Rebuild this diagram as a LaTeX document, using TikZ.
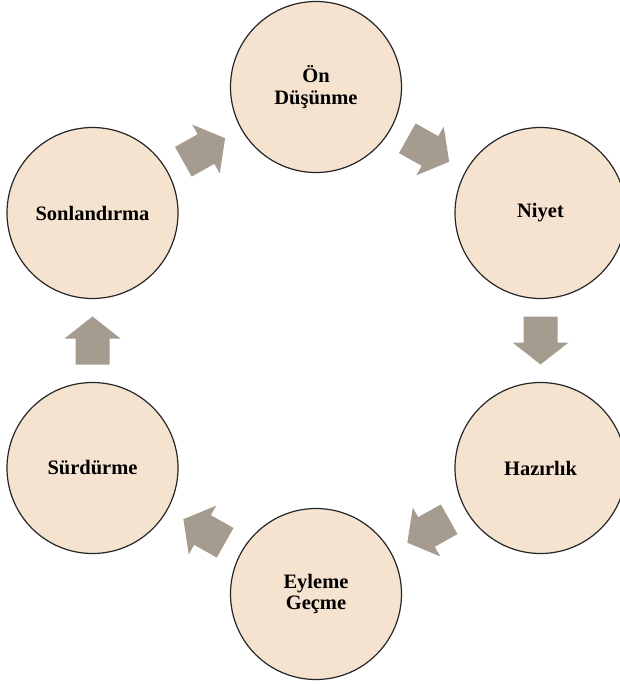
\documentclass[tikz,border=0pt]{standalone}
\usepackage{fontspec}
\setmainfont{Liberation Serif}
\definecolor{stagefill}{RGB}{245,227,208}
\definecolor{arrowfill}{RGB}{165,155,143}
\begin{document}
\begin{tikzpicture}[x=1pt,y=-1pt,
  stage/.style={circle, draw=black!85, line width=1.2pt, fill=stagefill,
    minimum size=171pt, inner sep=0pt, align=center,
    font=\fontsize{20.5}{21.5}\selectfont\bfseries},
  % block arrow pointing along +x, centred on the origin
  blockarrow/.pic={
    \fill[arrowfill] (-24,-17) -- (2,-17) -- (2,-28) -- (24,0)
      -- (2,28) -- (2,17) -- (-24,17) -- cycle;},
  cyclearrow/.style={sloped, allow upside down, pos=0.5}]
\useasboundingbox (0,0) rectangle (620,685);

% stages of the cycle
\node[stage] (pre)  at (316,87)    {Ön\\Düşünme};
\node[stage] (int)  at (540.5,213) {Niyet};
\node[stage] (prep) at (540.5,468) {Hazırlık};
\node[stage] (act)  at (316,594)   {Eyleme\\Geçme};
\node[stage] (keep) at (92.5,468)  {Sürdürme};
\node[stage] (end)  at (92.5,213)  {Sonlandırma};

% block arrows between consecutive stages
\path (end)  -- pic[cyclearrow]{blockarrow} (pre);
\path (pre)  -- pic[cyclearrow]{blockarrow} (int);
\path (int)  -- pic[cyclearrow]{blockarrow} (prep);
\path (prep) -- pic[cyclearrow]{blockarrow} (act);
\path (act)  -- pic[cyclearrow]{blockarrow} (keep);
\path (keep) -- pic[cyclearrow]{blockarrow} (end);
\end{tikzpicture}
\end{document}
